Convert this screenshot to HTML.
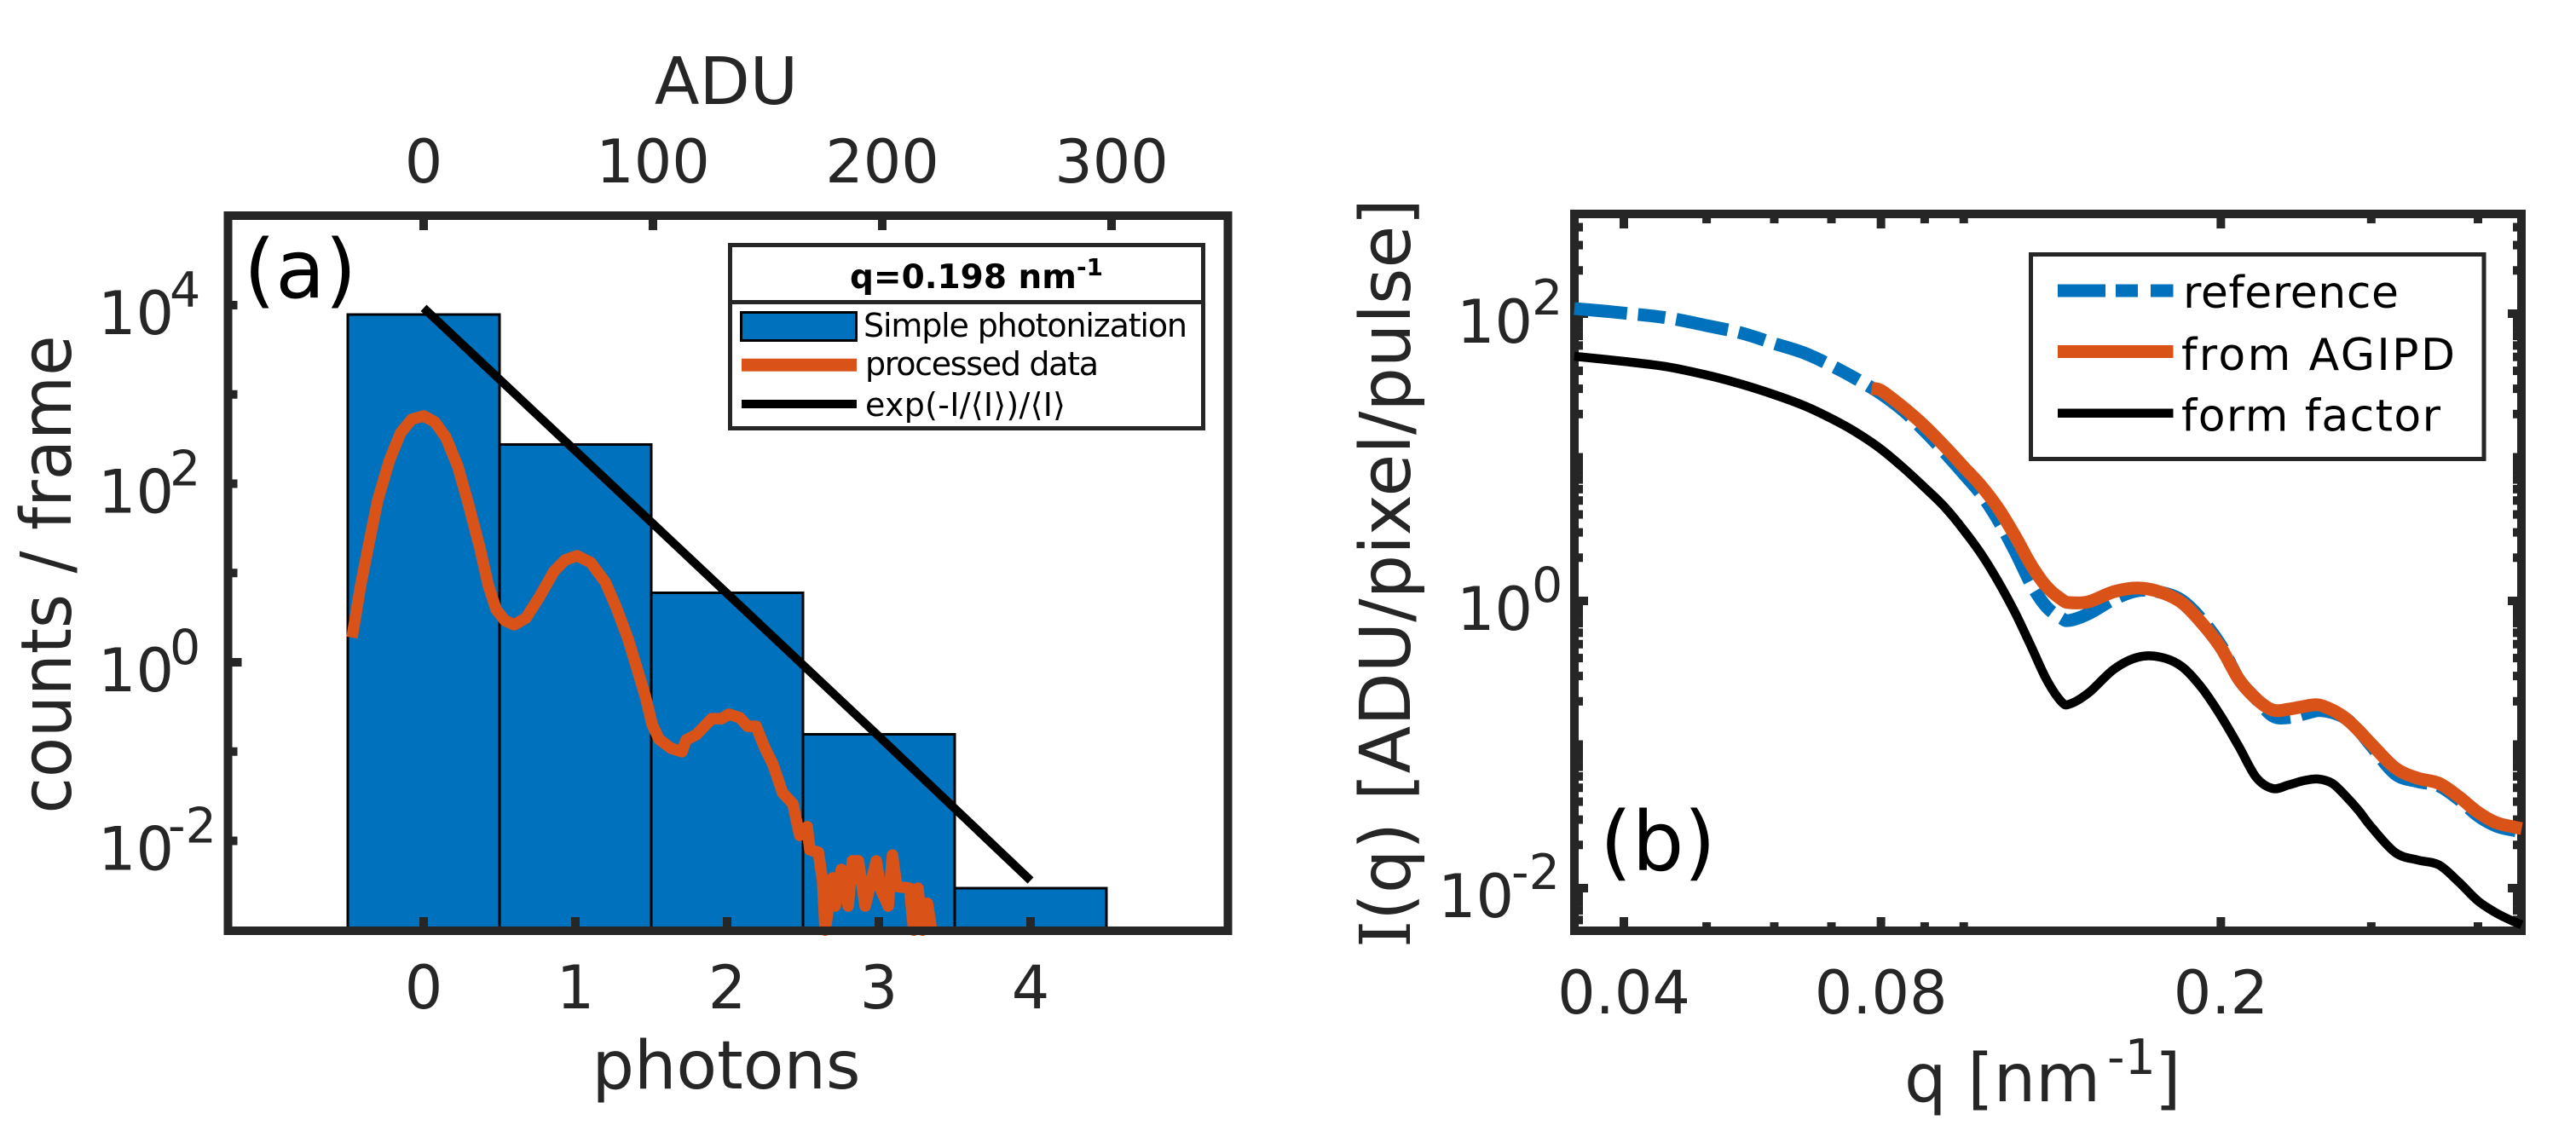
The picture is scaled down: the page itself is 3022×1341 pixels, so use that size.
<!DOCTYPE html>
<html lang="en">
<head>
<meta charset="utf-8">
<title>Photon histogram and I(q) curves</title>
<style>
html,body{margin:0;padding:0;background:#fff;}
svg{display:block;}
text{font-family:"DejaVu Sans","Liberation Sans",sans-serif;fill:#262626;}
.leg text{fill:#000;}
</style>
</head>
<body>
<svg id="figure" xmlns="http://www.w3.org/2000/svg" width="3022" height="1341" viewBox="0 0 3022 1341">
  <rect x="0" y="0" width="3022" height="1341" fill="#fff"/>

  <g id="panelA">
    <g id="aMarks"></g>
    <rect x="267.5" y="253" width="1173" height="839" fill="none" stroke="#262626" stroke-width="10"/>
    <g id="aTicks"></g>
    <text x="852" y="122" font-size="77" text-anchor="middle">ADU</text>
    <text x="852" y="1277" font-size="78" text-anchor="middle">photons</text>
    <text transform="translate(83,674) rotate(-90)" font-size="82" text-anchor="middle" textLength="561" lengthAdjust="spacingAndGlyphs">counts / frame</text>
    <text x="286" y="349" font-size="95" style="fill:#000">(a)</text>
    <g class="leg">
      <rect x="856.5" y="287.5" width="555" height="215" fill="#fff" stroke="#262626" stroke-width="5"/>
      <line x1="856.5" y1="354.5" x2="1411.5" y2="354.5" stroke="#262626" stroke-width="5"/>
      <text font-size="39" font-weight="bold" x="997" y="338">q=0.198 nm<tspan font-size="28" dy="-15">-1</tspan></text>
      <rect x="869.5" y="366.5" width="135" height="33" fill="#0072bd" stroke="#000" stroke-width="3"/>
      <text x="1013" y="395" font-size="38" textLength="380" lengthAdjust="spacing">Simple photonization</text>
      <rect x="870" y="420.7" width="135" height="15" fill="#d95319"/>
      <text x="1015" y="440" font-size="38" textLength="274" lengthAdjust="spacing">processed data</text>
      <rect x="870" y="469" width="135" height="10" fill="#000"/>
      <text x="1015" y="488" font-size="38" textLength="235" lengthAdjust="spacing">exp(-I/⟨I⟩)/⟨I⟩</text>
    </g>
  </g>

  <g id="panelB">
    <rect x="1847" y="251" width="1111" height="841" fill="none" stroke="#262626" stroke-width="10"/>
    <g id="bTicks"></g>
    <g id="bMarks"></g>
    <text y="1292" font-size="78"><tspan x="2234">q [nm</tspan><tspan x="2472" y="1260" font-size="57">-1</tspan><tspan x="2528" y="1292">]</tspan></text>
    <text transform="translate(1654,672.5) rotate(-90)" font-size="82" text-anchor="middle" textLength="879" lengthAdjust="spacingAndGlyphs"><tspan style="font-family:'DejaVu Serif',serif">I</tspan>(q) [ADU/pixel/pulse]</text>
    <text x="1877" y="1021" font-size="96" style="fill:#000">(b)</text>
    <g class="leg">
      <rect x="2382.5" y="298.5" width="531.5" height="240" fill="#fff" stroke="#262626" stroke-width="5"/>
      <path d="M2414 341H2470M2482 341H2508M2523 341H2549.5" fill="none" stroke="#0072bd" stroke-width="15"/>
      <text x="2561" y="361" font-size="52" textLength="253" lengthAdjust="spacing">reference</text>
      <rect x="2414" y="405" width="135.5" height="15" fill="#d95319"/>
      <text x="2559" y="434" font-size="52" textLength="321" lengthAdjust="spacing">from AGIPD</text>
      <rect x="2414" y="479.5" width="135.5" height="10.5" fill="#000"/>
      <text x="2559" y="505.6" font-size="52" textLength="304" lengthAdjust="spacing">form factor</text>
    </g>
  </g>
</svg>

<script>
// ---- Panel (a) data ----
const barPhotons = [0, 1, 2, 3, 4];
const barCounts = [7850, 275, 6, 0.156, 0.00295];
const expPhotons = [0, 1, 2, 3, 4];
const expCounts = [9300, 234, 5.9, 0.148, 0.0036];
const processedPhotons = [-0.472,-0.416,-0.36,-0.303,-0.225,-0.152,-0.079,0,0.073,0.146,0.225,0.298,0.371,0.427,0.478,0.534,0.596,0.674,0.764,0.86,0.933,1.011,1.101,1.197,1.27,1.348,1.404,1.461,1.506,1.551,1.629,1.702,1.73,1.798,1.899,1.966,2.011,2.084,2.135,2.191,2.247,2.303,2.365,2.433,2.478,2.528,2.545,2.601,2.629,2.646,2.697,2.713,2.753,2.798,2.826,2.865,2.91,2.983,3.011,3.062,3.09,3.118,3.202,3.23,3.258,3.287,3.32,3.348];
const processedCounts = [1.89,7.2,21.7,65.2,183,370,526,574,492,331,157,57,19,7.2,3.9,2.94,2.63,3.13,5.43,10.5,14,15.6,13.1,7.9,4.08,1.81,0.877,0.415,0.201,0.138,0.109,0.0995,0.135,0.155,0.234,0.234,0.262,0.239,0.192,0.192,0.111,0.0714,0.0346,0.026,0.0115,0.0144,0.00794,0.00743,0.0036,0.001,0.00385,0.00186,0.00479,0.00186,0.00597,0.00597,0.00186,0.00597,0.00289,0.00186,0.00695,0.00308,0.00295,0.001,0.00295,0.001,0.002,0.001];
const photonTicks = [0, 1, 2, 3, 4];
const aduTicks = [0, 100, 200, 300];
const countExponentLabels = [4, 2, 0, -2];
const countExponentTicks = [4, 3, 2, 1, 0, -1, -2];

// ---- Panel (b) data ----
const qGrid = [0.035,0.04,0.045,0.05,0.055,0.06,0.065,0.07,0.075,0.08,0.085,0.09,0.095,0.1,0.105,0.11,0.115,0.12,0.125,0.13,0.133,0.14,0.15,0.16,0.17,0.18,0.19,0.2,0.21,0.22,0.23,0.24,0.25,0.26,0.27,0.28,0.29,0.3,0.32,0.34,0.36,0.38,0.4,0.42,0.44,0.45];
const referenceI = [108.6,101,93.4,82.6,73.1,62,53.3,43.5,34.9,27.7,21.1,15.2,10.8,7.66,5.45,3.56,2.18,1.3,0.909,0.761,0.731,0.815,1.03,1.18,1.15,1.01,0.74,0.491,0.284,0.208,0.158,0.154,0.163,0.172,0.167,0.152,0.125,0.098,0.0624,0.0552,0.0515,0.0414,0.0319,0.0271,0.0253,0.0247];
const formFactorI = [50.5,46.5,42.6,37.4,32.2,27.3,22.9,18.6,14.8,11.4,8.43,6.16,4.5,3.11,2.09,1.33,0.815,0.478,0.284,0.2,0.191,0.229,0.335,0.406,0.406,0.349,0.248,0.158,0.0966,0.0591,0.0494,0.0523,0.056,0.0575,0.0537,0.0438,0.0347,0.0267,0.0177,0.0157,0.0145,0.011,0.00815,0.00673,0.00587,0.00556];
const agipdQ = [0.078,0.08,0.085,0.09,0.095,0.1,0.105,0.11,0.115,0.12,0.125,0.13,0.133,0.14,0.15,0.16,0.17,0.18,0.19,0.2,0.21,0.22,0.23,0.24,0.25,0.26,0.27,0.28,0.29,0.3,0.32,0.34,0.36,0.38,0.4,0.42,0.44,0.45];
const agipdI = [30,29.2,22.2,16.5,11.9,8.55,6.24,4.32,2.79,1.77,1.26,1.03,0.973,0.987,1.16,1.23,1.15,0.973,0.701,0.472,0.284,0.208,0.174,0.176,0.184,0.189,0.174,0.152,0.125,0.101,0.0687,0.0583,0.0537,0.0432,0.0337,0.0286,0.0267,0.026];
const qMajorTicks = [0.04, 0.08, 0.2];
const qMajorLabels = ["0.04", "0.08", "0.2"];
const qMinorTicks = [0.05, 0.06, 0.07, 0.09, 0.1, 0.3, 0.4];
const intensityExponentLabels = [2, 0, -2];
const intensityDecades = [-3, -2, -1, 0, 1, 2];
const decadeMultipliers = [2, 3, 4, 5, 6, 7, 8, 9, 10];

// ---- Axis functions ----
const aX = p => 497 + 178 * p;
const aduX = a => 497 + 2.69 * a;
const aY = v => 358 + (4 - Math.log10(v)) * 104.75;
const bX = q => 1905 + 1002 * Math.log10(q / 0.04);
const bY = v => 705 - 168.5 * Math.log10(v);
const A_BOTTOM = 1092, A_TOP = 253, A_LEFT = 267.5;
const B_LEFT = 1847, B_RIGHT = 2958, B_TOP = 251, B_BOTTOM = 1092;

const NS = 'http://www.w3.org/2000/svg';
function make(tag, attrs, parent, content) {
  const node = document.createElementNS(NS, tag);
  for (const k in attrs) node.setAttribute(k, attrs[k]);
  if (content !== undefined) node.textContent = content;
  parent.appendChild(node);
  return node;
}
function polyPath(xs, ys) {
  return xs.map((x, i) => (i ? 'L' : 'M') + x.toFixed(1) + ' ' + ys[i].toFixed(1)).join('');
}
function smoothPath(xs, ys) {
  let d = 'M' + xs[0].toFixed(1) + ' ' + ys[0].toFixed(1);
  for (let i = 0; i < xs.length - 1; i++) {
    const p = Math.max(i - 1, 0), n = Math.min(i + 2, xs.length - 1);
    const c1x = xs[i] + (xs[i + 1] - xs[p]) / 6, c1y = ys[i] + (ys[i + 1] - ys[p]) / 6;
    const c2x = xs[i + 1] - (xs[n] - xs[i]) / 6, c2y = ys[i + 1] - (ys[n] - ys[i]) / 6;
    d += 'C' + c1x.toFixed(1) + ' ' + c1y.toFixed(1) + ' ' + c2x.toFixed(1) + ' ' + c2y.toFixed(1) + ' ' + xs[i + 1].toFixed(1) + ' ' + ys[i + 1].toFixed(1);
  }
  return d;
}
function tickRect(parent, x, y, w, h) {
  return make('rect', {x: x, y: y, width: w, height: h, fill: '#262626'}, parent);
}

const aMarks = document.getElementById('aMarks');
const aTicks = document.getElementById('aTicks');
const bMarks = document.getElementById('bMarks');
const bTicks = document.getElementById('bTicks');

// ---- Panel (a) marks ----
barPhotons.forEach((p, i) => {
  const top = aY(barCounts[i]);
  const el = make('rect', {x: aX(p - 0.5), y: top, width: aX(p + 0.5) - aX(p - 0.5), height: A_BOTTOM - top, fill: '#0072bd', stroke: '#000', 'stroke-width': 3}, aMarks);
  
  
});
const expLine = make('path', {d: polyPath(expPhotons.map(aX), expCounts.map(aY)), fill: 'none', stroke: '#000', 'stroke-width': 10}, aMarks);


const processedLine = make('path', {d: polyPath(processedPhotons.map(aX), processedCounts.map(aY)), fill: 'none', stroke: '#d95319', 'stroke-width': 13.5, 'stroke-linejoin': 'round'}, aMarks);



// ---- Panel (a) ticks and labels ----
photonTicks.forEach(p => {
  const t = tickRect(aTicks, aX(p) - 5, A_BOTTOM - 16, 10, 16);
  
  
  const l = make('text', {x: aX(p), y: 1183, 'font-size': 70, 'text-anchor': 'middle'}, aTicks, String(p));
  
  
});
aduTicks.forEach(a => {
  const t = tickRect(aTicks, aduX(a) - 5, A_TOP, 10, 17);
  
  
  const l = make('text', {x: aduX(a), y: 214, 'font-size': 70, 'text-anchor': 'middle'}, aTicks, String(a));
  
  
});
countExponentTicks.forEach(e => {
  const t = tickRect(aTicks, A_LEFT, aY(Math.pow(10, e)) - 5, e === 0 ? 16 : 11, 10);
  
  
});
countExponentLabels.forEach(e => {
  const y = aY(Math.pow(10, e));
  const l = make('text', {x: 115, y: y + 34, 'font-size': 70}, aTicks, '10');
  
  
  const s = make('text', {x: e < 0 ? 197 : 199, y: y + 2, 'font-size': 57}, aTicks, String(e));
  
  
});

// ---- Panel (b) ticks and labels ----
qMajorTicks.forEach((q, i) => {
  const x = bX(q);
  const top = tickRect(bTicks, x - 5, B_TOP, 10, 17);
  
  
  const bottom = tickRect(bTicks, x - 5, B_BOTTOM - 16, 10, 16);
  
  
  const l = make('text', {x: x, y: 1189, 'font-size': 70, 'text-anchor': 'middle'}, bTicks, qMajorLabels[i]);
  
  
});
qMinorTicks.forEach(q => {
  const x = bX(q);
  const top = tickRect(bTicks, x - 5, B_TOP, 10, 11);
  
  
  const bottom = tickRect(bTicks, x - 5, B_BOTTOM - 10, 10, 10);
  
  
});
intensityDecades.forEach(d => {
  decadeMultipliers.forEach(m => {
    const v = m * Math.pow(10, d);
    const y = bY(v);
    if (y < B_TOP + 5 || y > B_BOTTOM - 5) return;
    const major = m === 10 && intensityExponentLabels.includes(d + 1);
    const len = major ? 16 : 10;
    const left = tickRect(bTicks, B_LEFT, y - 5, len, 10);
    
    
    const right = tickRect(bTicks, B_RIGHT - len, y - 5, len, 10);
    
    
  });
});
intensityExponentLabels.forEach(e => {
  const y = bY(Math.pow(10, e));
  const l = make('text', {x: e < 0 ? 1687 : 1709, y: y + 34, 'font-size': 70}, bTicks, '10');
  
  
  const s = make('text', {x: e < 0 ? 1773 : 1797, y: y + 1, 'font-size': 57}, bTicks, String(e));
  
  
});

// ---- Panel (b) marks ----
const referenceLine = make('path', {d: smoothPath(qGrid.map(bX), referenceI.map(bY)), fill: 'none', stroke: '#0072bd', 'stroke-width': 15, 'stroke-dasharray': '62 13 32 13'}, bMarks);


const agipdLine = make('path', {d: smoothPath(agipdQ.map(bX), agipdI.map(bY)), fill: 'none', stroke: '#d95319', 'stroke-width': 15, 'stroke-linejoin': 'round'}, bMarks);


const formLine = make('path', {d: smoothPath(qGrid.map(bX), formFactorI.map(bY)), fill: 'none', stroke: '#000', 'stroke-width': 10.5, 'stroke-linejoin': 'round'}, bMarks);


</script>
</body>
</html>
